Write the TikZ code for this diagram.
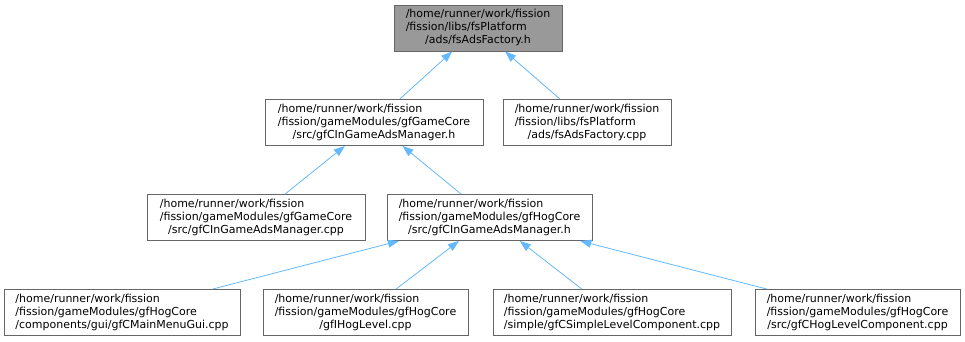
\documentclass[tikz,border=0pt]{standalone}
\usepackage{fontspec}
\setmainfont{DejaVu Sans}
\usetikzlibrary{arrows.meta}
\definecolor{edgeblue}{HTML}{63B8FF}
\definecolor{boxborder}{HTML}{666666}
\definecolor{topfill}{HTML}{999999}
\newcommand{\threelines}[3]{\begin{tabular}{@{}l@{}}#1\\#2\\\multicolumn{1}{@{}c@{}}{#3}\end{tabular}}
\begin{document}
\begin{tikzpicture}[x=1pt,y=-1pt,
  filebox/.style={draw=boxborder, fill=white, line width=0.9pt, minimum height=46pt, inner sep=0pt, font=\fontsize{11}{13}\selectfont},
  link/.style={draw=edgeblue, line width=0.8pt, {Triangle[length=11pt,width=8pt]}-}]
\useasboundingbox (0,0) rectangle (965,341);
\node[filebox, fill=topfill, minimum width=168pt] (top) at (478,28) {\threelines{/home/runner/work/fission}{/fission/libs/fsPlatform}{/ads/fsAdsFactory.h}};
\node[filebox, minimum width=218pt] (gch) at (374,122.5) {\threelines{/home/runner/work/fission}{/fission/gameModules/gfGameCore}{/src/gfCInGameAdsManager.h}};
\node[filebox, minimum width=168pt] (fsc) at (587,122.5) {\threelines{/home/runner/work/fission}{/fission/libs/fsPlatform}{/ads/fsAdsFactory.cpp}};
\node[filebox, minimum width=218pt] (gcc) at (256,217.5) {\threelines{/home/runner/work/fission}{/fission/gameModules/gfGameCore}{/src/gfCInGameAdsManager.cpp}};
\node[filebox, minimum width=205pt] (hh) at (489.5,217.5) {\threelines{/home/runner/work/fission}{/fission/gameModules/gfHogCore}{/src/gfCInGameAdsManager.h}};
\node[filebox, minimum width=236pt] (b1) at (122,312.5) {\threelines{/home/runner/work/fission}{/fission/gameModules/gfHogCore}{/components/gui/gfCMainMenuGui.cpp}};
\node[filebox, minimum width=205pt] (b2) at (365.5,312.5) {\threelines{/home/runner/work/fission}{/fission/gameModules/gfHogCore}{/gfIHogLevel.cpp}};
\node[filebox, minimum width=238pt] (b3) at (612,312.5) {\threelines{/home/runner/work/fission}{/fission/gameModules/gfHogCore}{/simple/gfCSimpleLevelComponent.cpp}};
\node[filebox, minimum width=205pt] (b4) at (857.5,312.5) {\threelines{/home/runner/work/fission}{/fission/gameModules/gfHogCore}{/src/gfCHogLevelComponent.cpp}};
\draw[link] (top) -- (gch);
\draw[link] (top) -- (fsc);
\draw[link] (gch) -- (gcc);
\draw[link] (gch) -- (hh);
\draw[link] (hh) -- (b1);
\draw[link] (hh) -- (b2);
\draw[link] (hh) -- (b3);
\draw[link] (hh) -- (b4);
\end{tikzpicture}
\end{document}
